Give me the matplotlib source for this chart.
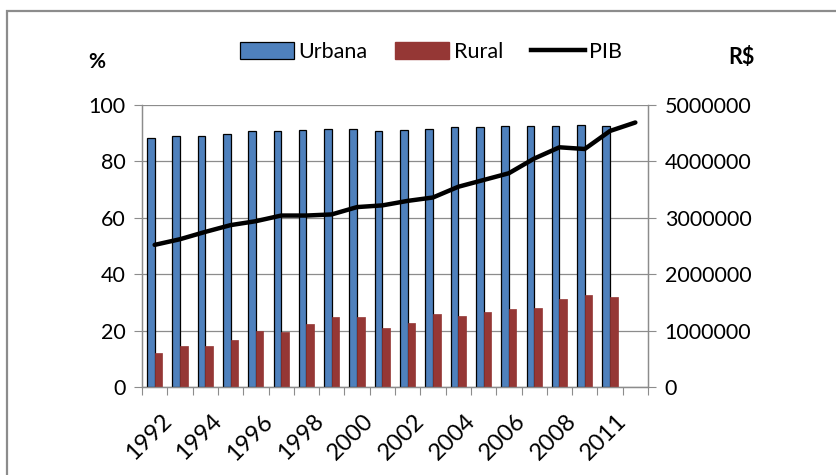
import matplotlib.pyplot as plt
import numpy as np
from matplotlib.patches import Rectangle
from matplotlib.lines import Line2D
from matplotlib.transforms import ScaledTranslation

years = [1992, 1993, 1994, 1995, 1996, 1997, 1998, 1999, 2000, 2001,
         2002, 2003, 2004, 2005, 2006, 2007, 2008, 2009, 2011, 2012]
urbana = [88.4, 88.9, 88.9, 89.8, 90.7, 90.7, 91.1, 91.6, 91.6, 90.7,
          91.1, 91.6, 92.1, 92.1, 92.6, 92.6, 92.6, 93.0, 92.6]
rural = [12.0, 14.4, 14.4, 16.7, 20.0, 19.4, 22.2, 24.8, 24.8, 20.8,
         22.6, 25.8, 25.3, 26.7, 27.7, 28.1, 31.2, 32.5, 31.8]
pib = [2520000, 2620000, 2750000, 2870000, 2940000, 3040000, 3040000, 3060000,
       3190000, 3220000, 3300000, 3360000, 3550000, 3670000, 3790000, 4050000,
       4250000, 4220000, 4540000, 4690000]

BLUE = "#4F81BD"
RED = "#953735"
GRID = "#8C8C8C"
FONT = "Lato"

plt.rcParams["font.family"] = [FONT, "DejaVu Sans"]

fig = plt.figure(figsize=(8.37, 4.75), dpi=100)
ax = fig.add_axes([142 / 837, 1 - 387 / 475, 506 / 837, 282 / 475])
ax2 = ax.twinx()

x = np.arange(len(years))
xb = x[: len(urbana)]
w = 0.3
ax.bar(xb - w / 2, urbana, width=w, color=BLUE, edgecolor="black", linewidth=0.9, zorder=3)
ax.bar(xb + w / 2, rural, width=w, color=RED, edgecolor=RED, linewidth=0.5, zorder=3)
ax2.plot(x, pib, color="black", linewidth=3.2, solid_capstyle="round", zorder=4)

ax.set_xlim(-0.5, len(years) - 0.5)
ax.set_ylim(0, 100)
ax.set_yticks(np.arange(0, 101, 20))
ax2.set_ylim(0, 5000000)
ax2.set_yticks(np.arange(0, 5000001, 1000000))
ax2.set_yticklabels([str(v) for v in range(0, 5000001, 1000000)])

ax.yaxis.grid(True, color=GRID, linewidth=0.9, zorder=0)
ax.set_axisbelow(True)

# category boundaries as tick marks, year labels at every other category
ax.set_xticks(np.arange(-0.5, len(years), 1.0))
ax.set_xticklabels([])
ax.set_xticks(x[::2], minor=True)
ax.set_xticklabels([str(years[i]) for i in x[::2]], minor=True, fontsize=17,
                   rotation=45, ha="right", va="top", rotation_mode="anchor")
ax.tick_params(axis="x", which="major", direction="out", length=6, color=GRID)
ax.tick_params(axis="x", which="minor", length=0, pad=17)
ax.tick_params(axis="y", direction="out", length=6, color=GRID, labelsize=15.5, pad=6)
ax2.tick_params(axis="y", direction="out", length=6, color=GRID, labelsize=15.5, pad=6)

shift = ScaledTranslation(0.06, 0, fig.dpi_scale_trans)
for lab in ax.get_xticklabels(minor=True):
    lab.set_transform(lab.get_transform() + shift)

for a in (ax, ax2):
    a.spines["top"].set_visible(False)
    for s in ("left", "right", "bottom"):
        a.spines[s].set_color(GRID)
        a.spines[s].set_linewidth(0.9)

fig.text(88 / 837, 1 - 62 / 475, "%", fontsize=15, fontweight="bold", ha="left", va="center")
fig.text(728 / 837, 1 - 58 / 475, "R$", fontsize=15.5, fontweight="bold", ha="left", va="center")

handles = [
    Rectangle((0, 0), 1, 1, facecolor=BLUE, edgecolor="black", linewidth=0.9),
    Rectangle((0, 0), 1, 1, facecolor=RED, edgecolor=RED),
    Line2D([0], [0], color="black", linewidth=3.2),
]
fig.legend(handles, ["Urbana", "Rural", "PIB"], loc="center",
           bbox_to_anchor=(431 / 837, 1 - 52 / 475), ncol=3, frameon=False,
           fontsize=15.5, handlelength=2.5, handleheight=0.8, handletextpad=0.2,
           columnspacing=1.3)

# outer chart frame (partly cut off in the source)
fig.add_artist(Rectangle((7 / 837, -0.1), 2, 1.1 - 11 / 475, transform=fig.transFigure,
                         fill=False, edgecolor="#8C8C8C", linewidth=1.6))

fig.savefig("out.png", dpi=100)
